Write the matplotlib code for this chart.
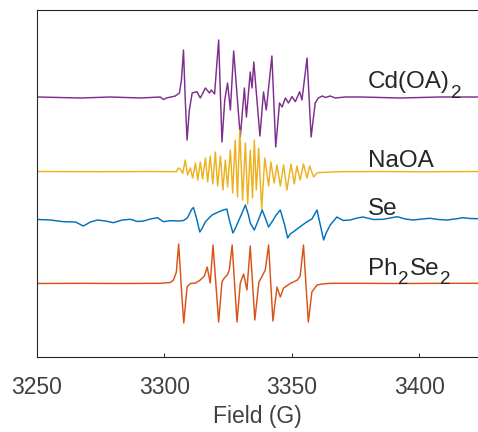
import matplotlib
matplotlib.use("Agg")
import matplotlib.pyplot as plt

plt.rcParams['font.family'] = ['Liberation Sans', 'DejaVu Sans']

# ---------------- data (field in G, signal in arbitrary units) ----------------
cd_field = [3250.2, 3267.1, 3278.8, 3290.6, 3298.4, 3299.6, 3300.8, 3304.3, 3305.9, 3306.7,
            3307.5, 3308.2, 3308.9, 3309.8, 3310.9, 3312.8, 3314.1, 3316.1, 3317.7, 3318.4,
            3319.7, 3321.3, 3322.6, 3323.7, 3324.8, 3325.9, 3327.2, 3329.8, 3331.4, 3332.2,
            3333.7, 3334.4, 3335.1, 3337.5, 3338.9, 3340.0, 3342.2, 3343.7, 3345.2, 3346.2,
            3347.5, 3348.7, 3350.1, 3351.4, 3353.1, 3354.0, 3356.0, 3357.6, 3359.2, 3360.4,
            3362.0, 3363.2, 3365.1, 3367.1, 3371.0, 3376.9, 3392.6, 3408.2, 3423.1]
cd_signal = [0, -1, 0, -1, 0, -2.5, -1, 1, 4, 17,
             47, -3, -43, -13, 4, 5.3, -1, 9, 4, 7,
             3, 57, -45, -3, 14, -13, 46, -40, 9, -20,
             25, 9, 35, -39, 5, -13, 41, -50, -6, -10,
             -1, -6, 0.3, -4.7, 5.3, -3, 39, -40, -6, -1,
             1, -0.5, 1, -1, 0, 0, -1, 0, 0]

na_field = [3250.2, 3274.9, 3294.5, 3304.7, 3305.5, 3306.3, 3307.2, 3308.2, 3309.1, 3310.2,
            3311.1, 3312.2, 3313.1, 3314.1, 3315.0, 3316.1, 3317.0, 3318.0, 3319.0, 3320.0,
            3320.9, 3322.0, 3323.0, 3323.9, 3324.8, 3325.9, 3326.8, 3327.8, 3328.7, 3329.6,
            3330.7, 3331.8, 3332.7, 3333.7, 3334.6, 3335.3, 3336.1, 3337.0, 3338.2, 3339.4,
            3340.9, 3341.8, 3343.1, 3344.2, 3345.5, 3346.8, 3348.1, 3349.7, 3351.0, 3352.0,
            3353.3, 3354.6, 3356.0, 3357.0, 3358.6, 3359.9, 3361.2, 3369.0, 3384.7, 3400.4,
            3423.1]
na_signal = [0, -0.2, 0, -0.2, 3.5, 2, -1.8, 11.5, -3.5, 3.5,
             -6.5, 8.5, -8.5, 9.5, -7.5, 13.5, -10.5, 15.5, -12.5, 19.5,
             -14.5, 15.5, -18.5, 11.5, -15.5, 21.5, -21.5, 31.5, -25.5, 41.5,
             -28.5, 28.5, -32.5, 21.5, -26.5, 31.5, -18.5, 23.5, -37.5, 13.5,
             -14.5, 9.5, -11.5, 6.5, -14.5, 6.5, -18.5, 7.5, -12.5, 5.5,
             -8.5, 7.5, -6.5, 5.5, -5.5, -1.5, -1, -0.2, 0, -0.3,
             0]

se_field = [3250.2, 3255.3, 3260.4, 3265.1, 3268.2, 3271.0, 3273.7, 3276.9, 3280.0, 3283.5,
            3286.7, 3289.4, 3291.8, 3294.5, 3297.3, 3299.6, 3302.4, 3305.5, 3307.5, 3309.0,
            3310.8, 3311.4, 3312.6, 3313.9, 3314.9, 3316.1, 3318.7, 3321.2, 3323.1, 3324.5,
            3325.5, 3326.9, 3327.9, 3329.8, 3331.8, 3333.0, 3333.7, 3335.3, 3336.9, 3338.4,
            3339.6, 3340.9, 3342.2, 3343.9, 3345.5, 3347.1, 3348.4, 3349.4, 3350.7, 3353.3,
            3356.0, 3357.9, 3358.8, 3359.9, 3361.2, 3362.5, 3363.5, 3365.1, 3367.7, 3370.2,
            3372.9, 3375.7, 3378.0, 3382.0, 3385.9, 3388.6, 3391.4, 3394.5, 3397.7, 3401.2,
            3404.3, 3407.5, 3411.0, 3414.1, 3417.3, 3420.0, 3423.1]
se_signal = [0, -0.5, -2.2, -2.5, -6.5, -2.5, -0.5, -1.5, -3.2, -0.5,
             0.2, -2, -1.5, 0.5, 1.8, -2.2, -1.2, -1.5, -1, 1.5,
             10.5, 12, 1.5, -12.5, -8.5, -2.2, 4.5, 7.5, 9.5, 10.5,
             -0.5, -13.5, -8.5, 2.5, 14.5, 4.5, -3.5, -10.5, -0.5, 9.5,
             1.5, -7.5, -2.5, 4.5, 9.5, -4.5, -18.5, -14.5, -12.2, -7.2,
             -2.2, 0.5, 4.5, 9.5, -5.5, -20.5, -13.5, -5.5, 2.5, -1,
             -0.5, 1.5, 2.5, 0, 0.2, 1.5, 2.8, 0.5, -0.5, 0.5,
             1.2, 0, -0.5, 0.5, 1.8, 1, 0.8]

ph_field = [3250.2, 3267.1, 3282.7, 3298.4, 3302.4, 3303.6, 3304.7, 3305.6, 3306.9, 3307.6,
            3308.9, 3310.2, 3312.2, 3314.1, 3315.7, 3316.8, 3318.0, 3319.1, 3321.3, 3322.6,
            3323.5, 3324.7, 3325.5, 3326.6, 3328.5, 3329.8, 3331.1, 3332.4, 3333.7, 3335.5,
            3337.1, 3338.4, 3339.6, 3340.9, 3342.6, 3344.2, 3345.5, 3346.8, 3349.4, 3352.2,
            3353.3, 3354.6, 3356.5, 3357.9, 3359.9, 3362.0, 3365.1, 3376.9, 3392.6, 3408.2,
            3423.1]
ph_signal = [-0.2, 0, -0.2, 0, 0.8, 3.3, 11.3, 39.3, -13.7, -39.7,
             -3.7, -0.2, 0.3, 3.3, 7.3, 16.3, 0.3, 38.3, -38.7, 1.3,
             5.3, 8.3, 13.3, 38.3, -38.7, 0.3, 9.3, -6.7, 37.3, -36.7,
             1.3, 7.3, 13.3, 38.3, -37.7, -3.7, -13.7, -4.7, -0.2, 3.3,
             7.3, 38.3, -38.7, -8.7, -1.7, -0.7, 0, 0, -0.2, 0,
             0]

# label parts: (text, is_subscript)
labels = [
    [('Cd(OA)', False), ('2', True)],
    [('NaOA', False)],
    [('Se', False)],
    [('Ph', False), ('2', True), ('Se', False), ('2', True)],
]
xticks = [3250, 3300, 3350, 3400]
xlabel = 'Field (G)'

# ---------------- drawing ----------------
offsets = [260, 185.5, 137.5, 73.7]
colors = ['#7E2F8E', '#EDB120', '#0072BD', '#D95319']
label_y = [268.7, 190, 142, 82]
txt_color = '#262626'
main_fs = 17.5
sub_fs = 13.5

fig = plt.figure(figsize=(4.78, 4.32), dpi=100)
ax = fig.add_axes([37 / 478, 75 / 432, 441 / 478, 347 / 432])

series = [(cd_field, cd_signal), (na_field, na_signal), (se_field, se_signal), (ph_field, ph_signal)]
for (f, s), off, c in zip(series, offsets, colors):
    ax.plot(f, [off + v for v in s], color=c, lw=1.05, solid_joinstyle='round')

for parts, y in zip(labels, label_y):
    first = ax.text(3380, y, parts[0][0], fontsize=main_fs, color=txt_color,
                    va='baseline', ha='left')
    prev = first
    for txt, is_sub in parts[1:]:
        if is_sub:
            prev = ax.annotate(txt, xy=(1, 0), xycoords=(prev, first), xytext=(0.4, -6.0),
                               textcoords='offset points', fontsize=sub_fs, color=txt_color,
                               va='bottom', ha='left')
        else:
            prev = ax.annotate(txt, xy=(1, 0), xycoords=(prev, first), xytext=(0.4, 0),
                               textcoords='offset points', fontsize=main_fs, color=txt_color,
                               va='bottom', ha='left')

ax.set_xlim(3250, 3423.1)
ax.set_ylim(0, 347)
ax.set_xticks(xticks)
ax.set_yticks([])
ax.tick_params(axis='x', direction='in', length=3, width=0.7, colors='#262626',
               labelsize=16.5, pad=13.5, labelcolor='#404040')
ax.set_xlabel(xlabel, fontsize=16.5, color='#404040', labelpad=4.5)
ax.spines['right'].set_visible(False)
for sp in ['left', 'top', 'bottom']:
    ax.spines[sp].set_color('#262626')
    ax.spines[sp].set_linewidth(0.8)

fig.savefig('out.png', dpi=100)
